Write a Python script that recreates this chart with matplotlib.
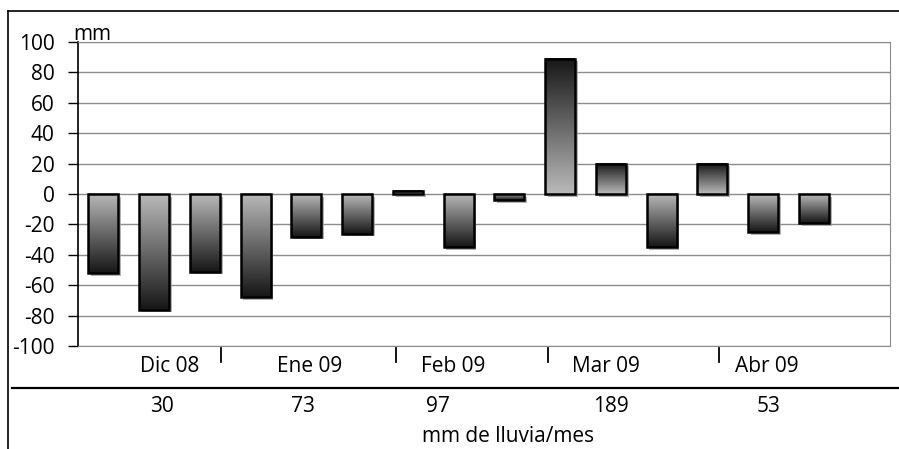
"""Monthly rainfall deviation bars (mm) with a rainfall table under the axis."""
import numpy as np
import matplotlib
matplotlib.use('Agg')
from matplotlib import pyplot as plt
from matplotlib import transforms
from matplotlib.lines import Line2D
from matplotlib.patches import Rectangle
from matplotlib.colors import LinearSegmentedColormap
import matplotlib.patheffects as pe

plt.rcParams['font.family'] = ['Open Sans', 'DejaVu Sans']
plt.rcParams['axes.unicode_minus'] = False

# data
months = ['Dic 08', 'Ene 09', 'Feb 09', 'Mar 09', 'Abr 09']
rain_mm = [30, 73, 97, 189, 53]
deviation = [-52, -76, -51, -68, -28, -26, 2, -35, -4, 89, 20, -35, 20, -25, -19]
n_slots = 16  # the last slot is empty in the original
yticks = list(range(-100, 101, 20))

# layout of the hand placed labels under the axis (in bar-slot units)
label_x = [1.31, 4.07, 6.89, 9.9, 13.08]
rain_x = [1.15, 3.93, 6.6, 10.0, 13.1]
divider_x = [2.32, 5.77, 8.76, 12.13]

FS = 15
W, H = 899, 449
fig = plt.figure(figsize=(W / 100, H / 100), dpi=100)
ax = fig.add_axes([78 / W, 1 - 346 / H, (890 - 78) / W, (346 - 42) / H])

ax.set_yticks(yticks)
ax.set_xticks([])
ax.yaxis.grid(True, color='#8c8c8c', lw=1)
ax.set_axisbelow(True)
ax.tick_params(axis='y', length=7, width=1, pad=10, labelsize=FS, colors='black')
for side in ('top', 'right', 'bottom'):
    ax.spines[side].set_color('#8c8c8c')
ax.spines['left'].set_color('black')
ax.spines['left'].set_linewidth(1.2)

cmap = LinearSegmentedColormap.from_list('bar', ['#bababa', '#161616'])
grad = np.linspace(0, 1, 256).reshape(-1, 1)
width = 0.59
for i, v in enumerate(deviation):
    lo, hi = min(0, v), max(0, v)
    # soft shadow behind the bar
    back = Rectangle((i - width / 2, lo), width, hi - lo, facecolor='#b0b0b0',
                     edgecolor='none', zorder=2.5)
    back.set_path_effects([pe.SimplePatchShadow(offset=(2, -2),
                                                shadow_rgbFace='#a0a0a0', alpha=0.8),
                           pe.Normal()])
    ax.add_patch(back)
    img = grad if v > 0 else grad[::-1]
    ax.imshow(img, cmap=cmap, vmin=0, vmax=1, aspect='auto', origin='lower',
              interpolation='bilinear',
              extent=(i - width / 2, i + width / 2, lo, hi), zorder=3)
    ax.add_patch(Rectangle((i - width / 2, lo), width, hi - lo, fill=False,
                           edgecolor='black', lw=1.8, zorder=4))
ax.set_xlim(-0.5, n_slots - 0.5)
ax.set_ylim(-100, 100)

ax.text(-0.006, 1.006, 'mm', transform=ax.transAxes, fontsize=FS,
        ha='left', va='baseline')

# table under the axis
trans = transforms.blended_transform_factory(ax.transData, ax.transAxes)
for x, name in zip(label_x, months):
    ax.text(x, -0.069, name, transform=trans, ha='center', va='center',
            fontsize=FS, clip_on=False)
for x, r in zip(rain_x, rain_mm):
    ax.text(x, -0.2, str(r), transform=trans, ha='center', va='center',
            fontsize=FS, clip_on=False)
for x in divider_x:
    ax.add_line(Line2D([x, x], [-0.007, -0.053], transform=trans, color='black',
                       lw=1.3, clip_on=False))
ax.text(0.53, -0.299, 'mm de lluvia/mes', transform=ax.transAxes, ha='center',
        va='center', fontsize=FS)

# outer frame and table rule
fig.add_artist(Line2D([12 / W, 1], [1 - 388 / H] * 2, color='black', lw=1.6))
fig.add_artist(Line2D([8 / W, 1], [1 - 11 / H] * 2, color='black', lw=1.2))
fig.add_artist(Line2D([8 / W] * 2, [0, 1 - 11 / H], color='black', lw=1.2))

fig.savefig('out.png', dpi=100)
